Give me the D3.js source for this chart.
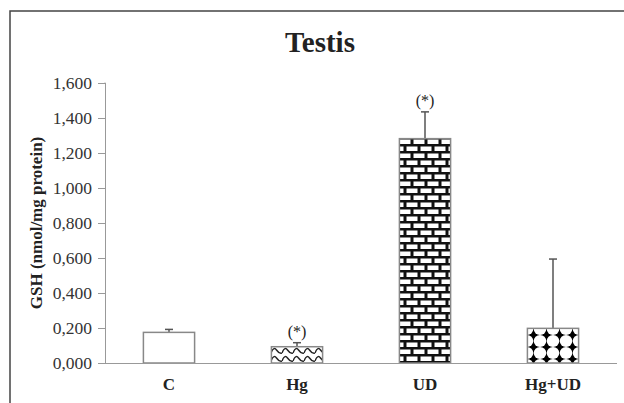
<!DOCTYPE html>
<html><head><meta charset="utf-8">
<script src="https://cdn.jsdelivr.net/npm/d3@7"></script>
<style>body{margin:0;background:#fff;} svg{display:block;}</style>
</head><body>
<script>
const categories = ["C", "Hg", "UD", "Hg+UD"];
const means = [0.175, 0.093, 1.282, 0.198];
const errors = [0.017, 0.023, 0.153, 0.396];
const significance = ["", "(*)", "(*)", ""];
const yTicks = [0, 0.2, 0.4, 0.6, 0.8, 1.0, 1.2, 1.4, 1.6];
const patterns = ["none", "wave", "brick", "dots"];

const W = 624, H = 403;
const svg = d3.select("body").append("svg").attr("width", W).attr("height", H);
const serif = "'Liberation Serif','DejaVu Serif',serif";

const defs = svg.append("defs");
// wave
const pw = defs.append("pattern").attr("id","wave").attr("patternUnits","userSpaceOnUse")
  .attr("width",11).attr("height",8).attr("x",271).attr("y",347);
pw.append("rect").attr("width",11).attr("height",8).attr("fill","#fff");
pw.append("path").attr("d","M0,6 Q2.75,-1 5.5,3 Q8.25,7 11,6").attr("fill","none").attr("stroke","#222").attr("stroke-width",1.4);
// brick
const pb = defs.append("pattern").attr("id","brick").attr("patternUnits","userSpaceOnUse")
  .attr("width",14).attr("height",14).attr("x",398).attr("y",138);
pb.append("rect").attr("width",14).attr("height",14).attr("fill","#111");
pb.append("rect").attr("x",1.5).attr("y",1.5).attr("width",11).attr("height",4.5).attr("fill","#fff");
pb.append("rect").attr("x",-5.5).attr("y",8.5).attr("width",11).attr("height",4.5).attr("fill","#fff");
pb.append("rect").attr("x",8.5).attr("y",8.5).attr("width",11).attr("height",4.5).attr("fill","#fff");
// dots
const pd = defs.append("pattern").attr("id","dots").attr("patternUnits","userSpaceOnUse")
  .attr("width",13).attr("height",12).attr("x",527).attr("y",329);
pd.append("rect").attr("width",13).attr("height",12).attr("fill","#000");
[[0,0],[13,0],[0,12],[13,12]].forEach(([cx,cy])=>pd.append("ellipse").attr("cx",cx).attr("cy",cy).attr("rx",6.3).attr("ry",5.9).attr("fill","#fff"));

// frame
svg.append("path").attr("d",`M10,${H} V11 H${W}`).attr("fill","none").attr("stroke","#444").attr("stroke-width",1.5);

const x0 = 105, x1 = 617, yTop = 83, yBot = 363;
const x = d3.scaleBand().domain(categories).range([x0, x1]).paddingInner(0.6).paddingOuter(0.3);
const y = d3.scaleLinear().domain([0, 1.6]).range([yBot, yTop]);

// title
svg.append("text").attr("x",320).attr("y",52).attr("text-anchor","middle")
  .attr("font-family",serif).attr("font-weight","bold").attr("font-size",29).attr("fill","#222").text("Testis");

// y axis
const fmt = d => { const [a,b] = d.toFixed(3).split("."); return a + "," + b; };
const ya = svg.append("g").attr("transform",`translate(${x0},0)`).call(d3.axisLeft(y).tickValues(yTicks).tickSize(7).tickPadding(6).tickFormat(fmt));
ya.select(".domain").attr("stroke","#999").attr("d",`M-0.5,${yTop}H0.5V${yBot}`);
ya.selectAll(".tick line").attr("stroke","#999");
ya.selectAll(".tick text").attr("font-family",serif).attr("font-size",17.5).attr("fill","#333");

// y label
svg.append("text").attr("transform",`translate(42,${(yTop+yBot)/2}) rotate(-90)`).attr("text-anchor","middle")
  .attr("font-family",serif).attr("font-weight","bold").attr("font-size",17).attr("fill","#222").text("GSH (nmol/mg protein)");

// bars
const data = categories.map((c,i)=>({c, m:means[i], e:errors[i], s:significance[i], p:patterns[i]}));
const g = svg.append("g");
g.selectAll(".err").data(data).join("line")
  .attr("x1",d=>x(d.c)+x.bandwidth()/2).attr("x2",d=>x(d.c)+x.bandwidth()/2)
  .attr("y1",d=>y(d.m)).attr("y2",d=>y(d.m+d.e)).attr("stroke","#555").attr("stroke-width",1.5);
g.selectAll(".cap").data(data).join("line")
  .attr("x1",d=>x(d.c)+x.bandwidth()/2-4).attr("x2",d=>x(d.c)+x.bandwidth()/2+4)
  .attr("y1",d=>y(d.m+d.e)).attr("y2",d=>y(d.m+d.e)).attr("stroke","#555").attr("stroke-width",1.5);
g.selectAll(".bar").data(data).join("rect")
  .attr("x",d=>x(d.c)).attr("width",x.bandwidth())
  .attr("y",d=>y(d.m)).attr("height",d=>yBot-y(d.m))
  .attr("fill",d=>d.p==="none"?"#fff":`url(#${d.p})`).attr("stroke","#888").attr("stroke-width",1.5);
g.selectAll(".sig").data(data.filter(d=>d.s)).join("text")
  .attr("x",d=>x(d.c)+x.bandwidth()/2).attr("y",d=>y(d.m+d.e)-6).attr("text-anchor","middle")
  .attr("font-family",serif).attr("font-size",16).attr("fill","#222").text(d=>d.s);

// x axis
const xa = svg.append("g").attr("transform",`translate(0,${yBot})`).call(d3.axisBottom(x).tickSize(0).tickPadding(15));
xa.select(".domain").attr("stroke","#999").attr("d",`M${x0},0.5H${x1}`);
xa.selectAll(".tick text").attr("font-family",serif).attr("font-weight","bold").attr("font-size",17).attr("fill","#222");
</script>
</body></html>
